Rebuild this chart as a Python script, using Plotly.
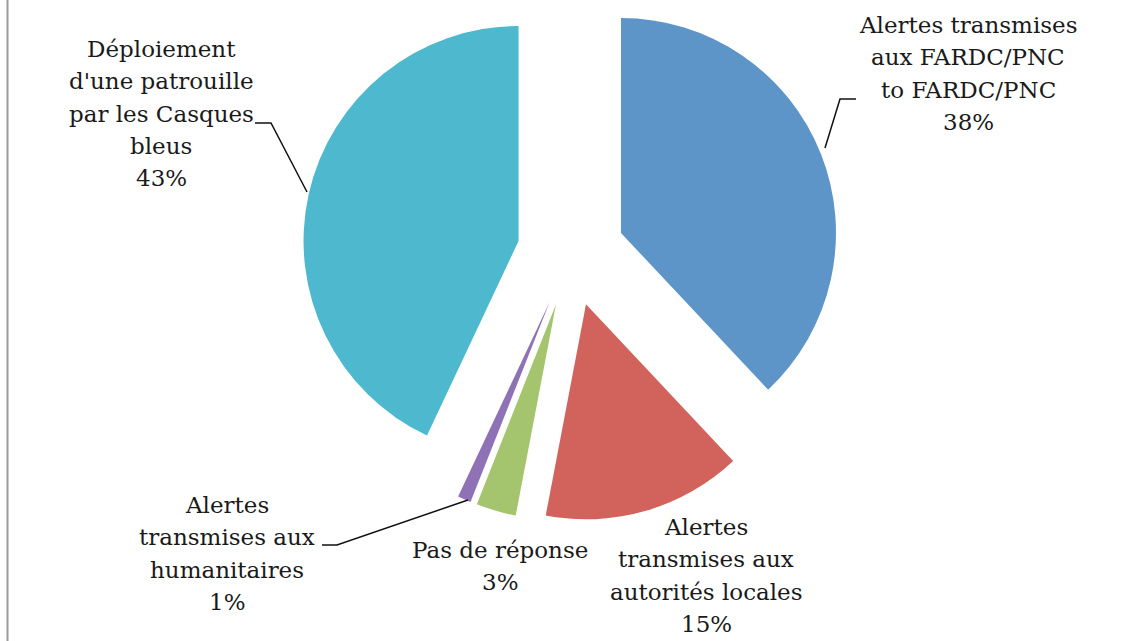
"""
Exploded pie: suites données aux alertes.
"""
import plotly.graph_objects as go

# Data
categories = [
    "Alertes transmises aux FARDC/PNC to FARDC/PNC",
    "Alertes transmises aux autorités locales",
    "Pas de réponse",
    "Alertes transmises aux humanitaires",
    "Déploiement d'une patrouille par les Casques bleus",
]
label_lines = [
    ["Alertes transmises", "aux FARDC/PNC", "to FARDC/PNC"],
    ["Alertes", "transmises aux", "autorités locales"],
    ["Pas de réponse"],
    ["Alertes", "transmises aux", "humanitaires"],
    ["Déploiement", "d'une patrouille", "par les Casques", "bleus"],
]
shares = [38, 15, 3, 1, 43]
colors = ["#5E95C8", "#D2625C", "#A4C46E", "#8E72B5", "#4DB8CE"]

W, H = 1134, 641
TOP_SHIFT = 16          # figure is lifted by this many px on the page
H_FIG = H + TOP_SHIFT
FONT = "DejaVu Serif"
FONT_SIZE = 23
PITCH = 32.3            # line pitch of the labels, px


def px(x, y):
    """page pixel -> paper coords (margins are 0)"""
    return x / W, 1 - (y + TOP_SHIFT) / H_FIG


# label anchor: x centre, baseline of first line (page pixels)
label_pos = [(968, 33), (706, 535), (500, 558), (227, 513), (161, 57)]

# leader lines, in page pixels
leaders = [
    [(825, 148), (840, 99), (856, 99)],
    [(307, 192), (271, 123), (255, 123)],
    [(468, 500), (337, 545), (322, 545)],
]

PULL = 0.25
R = 215
avail_h = R * (2 + 2 * PULL)

fig = go.Figure(go.Pie(
    labels=categories,
    values=shares,
    marker=dict(colors=colors, line=dict(width=0)),
    sort=False,
    direction="clockwise",
    rotation=0,
    pull=[PULL] * len(shares),
    textinfo="none",
    hoverinfo="label+percent",
    domain=dict(x=[2 * 571 / W - 1, 1], y=[1 - avail_h / H_FIG, 1]),
    showlegend=False,
))

total = sum(shares)
annotations = []
for lines, v, (x, y0) in zip(label_lines, shares, label_pos):
    for i, line in enumerate(lines + [f"{round(100 * v / total)}%"]):
        # middle of the text box sits ~0.35em above the baseline
        ax, ay = px(x, y0 + i * PITCH - 0.35 * FONT_SIZE)
        annotations.append(dict(
            x=ax, y=ay, xref="paper", yref="paper",
            text=line, showarrow=False, align="center",
            xanchor="center", yanchor="middle",
            font=dict(family=FONT, size=FONT_SIZE, color="#1a1a1a"),
        ))

shapes = []
for pts in leaders:
    p = [px(x, y) for x, y in pts]
    path = "M " + " L ".join(f"{a},{b}" for a, b in p)
    shapes.append(dict(type="path", path=path, xref="paper", yref="paper",
                       line=dict(color="#111111", width=1.5)))

# thin frame edge on the left
shapes.append(dict(type="line", xref="paper", yref="paper",
                   x0=7.5 / W, x1=7.5 / W, y0=0, y1=1,
                   line=dict(color="#9a9a9a", width=2)))

fig.update_layout(
    width=W, height=H_FIG,
    margin=dict(l=0, r=0, t=0, b=0),
    paper_bgcolor="white",
    plot_bgcolor="white",
    annotations=annotations,
    shapes=shapes,
)

# drop the default page margin and lift the figure a little
post = (
    "document.body.style.margin='0';"
    f"document.querySelector('.plotly-graph-div').style.marginTop='-{TOP_SHIFT}px';"
)
fig.write_html("out.html", config={"displayModeBar": False}, post_script=post)
